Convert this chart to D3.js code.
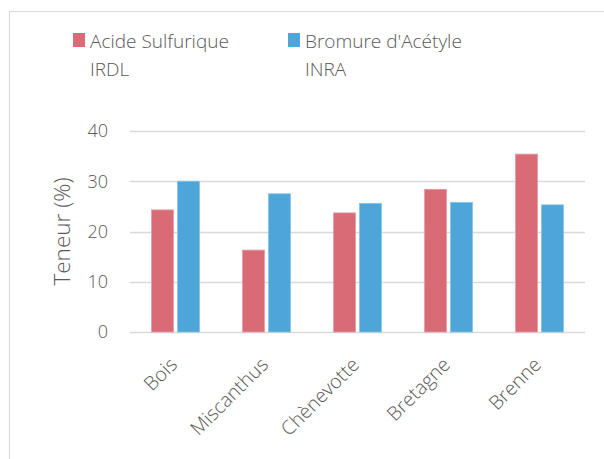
<!DOCTYPE html>
<html>
<head>
<meta charset="utf-8">
<script src="https://d3js.org/d3.v7.min.js"></script>
<style>
  body { margin: 0; background: #fff; }
  text { font-family: "Open Sans", sans-serif; font-weight: 300; fill: #595959; }
</style>
</head>
<body>
<svg width="604" height="459"></svg>
<script>
// data
var categories = ["Bois", "Miscanthus", "Chènevotte", "Bretagne", "Brenne"];
var acideSulfurique = [24.3, 16.3, 23.7, 28.4, 35.4];
var bromureAcetyle = [30.0, 27.5, 25.6, 25.8, 25.3];
var seriesNames = [["Acide Sulfurique", "IRDL"], ["Bromure d'Acétyle", "INRA"]];
var yTicks = [0, 10, 20, 30, 40];
var colors = ["#d96b76", "#4ea6d8"];

var svg = d3.select("svg");

// outer frame
svg.append("rect")
  .attr("x", 9.5).attr("y", 11.5)
  .attr("width", 700).attr("height", 600)
  .attr("fill", "none").attr("stroke", "#d9d9d9");

var plotLeft = 130, plotRight = 585, plotTop = 131, plotBottom = 332;

var x = d3.scaleBand().domain(categories).range([plotLeft, plotRight]);
var xs = d3.scaleBand().domain([0, 1]).range([0, x.bandwidth()]).paddingInner(0.154).paddingOuter(0.83);
var y = d3.scaleLinear().domain([0, 40]).range([plotBottom, plotTop]);

// gridlines
svg.append("g").selectAll("line")
  .data(yTicks).enter().append("line")
  .attr("x1", plotLeft).attr("x2", plotRight)
  .attr("y1", function(d){ return Math.round(y(d)) + 0.5; })
  .attr("y2", function(d){ return Math.round(y(d)) + 0.5; })
  .attr("stroke", "#d9d9d9").attr("stroke-width", 1.3);

// y tick labels
svg.append("g").selectAll("text")
  .data(yTicks).enter().append("text")
  .attr("x", 108)
  .attr("y", function(d){ return y(d); })
  .attr("dy", "0.35em")
  .attr("text-anchor", "end")
  .style("font-size", "18px")
  .text(function(d){ return d; });

// y title
svg.append("text")
  .attr("transform", "translate(70," + ((plotTop + plotBottom) / 2) + ") rotate(-90)")
  .attr("text-anchor", "middle")
  .style("font-size", "22.5px")
  .text("Teneur (%)");

// bars
var allSeries = [acideSulfurique, bromureAcetyle];
allSeries.forEach(function(vals, si){
  svg.append("g").selectAll("rect")
    .data(vals).enter().append("rect")
    .attr("x", function(d, i){ return x(categories[i]) + xs(si); })
    .attr("y", function(d){ return y(d); })
    .attr("width", xs.bandwidth())
    .attr("height", function(d){ return plotBottom - y(d); })
    .attr("fill", colors[si])
    .attr("stroke", si == 0 ? "#e79ba2" : "#86c2e6")
    .attr("stroke-width", 0.8);
});

// x labels rotated
svg.append("g").selectAll("text")
  .data(categories).enter().append("text")
  .attr("transform", function(d){
    return "translate(" + (x(d) + x.bandwidth() / 2 - 2) + "," + (plotBottom + 29) + ") rotate(-45)";
  })
  .attr("text-anchor", "end")
  .attr("dy", "0.35em")
  .style("font-size", "19.5px")
  .text(function(d){ return d; });

// legend
var legendX = [73, 288];
seriesNames.forEach(function(lines, i){
  var g = svg.append("g");
  g.append("rect")
    .attr("x", legendX[i]).attr("y", 33)
    .attr("width", 12).attr("height", 14)
    .attr("fill", colors[i]);
  lines.forEach(function(t, j){
    g.append("text")
      .attr("x", legendX[i] + 17)
      .attr("y", 48 + j * 28)
      .style("font-size", "19px")
      .text(t);
  });
});
</script>
</body>
</html>
